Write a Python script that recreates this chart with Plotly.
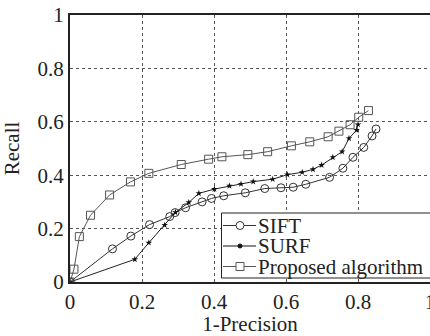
import plotly.graph_objects as go

sift_x = [0, 0.118, 0.169, 0.221, 0.277, 0.292, 0.321, 0.367, 0.393, 0.427, 0.487, 0.541, 0.586, 0.62, 0.655, 0.721, 0.758, 0.786, 0.816, 0.839, 0.85]
sift_y = [0, 0.124, 0.172, 0.215, 0.245, 0.26, 0.278, 0.3, 0.313, 0.323, 0.334, 0.35, 0.353, 0.355, 0.366, 0.392, 0.426, 0.467, 0.504, 0.547, 0.573]

surf_x = [0, 0.18, 0.219, 0.263, 0.293, 0.33, 0.358, 0.401, 0.443, 0.475, 0.509, 0.563, 0.604, 0.645, 0.675, 0.699, 0.73, 0.756, 0.775, 0.796, 0.80]
surf_y = [0, 0.085, 0.147, 0.213, 0.261, 0.298, 0.332, 0.348, 0.36, 0.367, 0.376, 0.385, 0.402, 0.411, 0.422, 0.438, 0.467, 0.488, 0.538, 0.569, 0.59]

prop_x = [0, 0.011, 0.026, 0.057, 0.11, 0.168, 0.219, 0.309, 0.385, 0.422, 0.494, 0.549, 0.615, 0.666, 0.717, 0.747, 0.778, 0.802, 0.829]
prop_y = [0, 0.048, 0.17, 0.25, 0.326, 0.375, 0.407, 0.44, 0.46, 0.469, 0.477, 0.488, 0.51, 0.525, 0.544, 0.565, 0.589, 0.617, 0.642]

series_names = ["SIFT", "SURF", "Proposed algorithm"]
tick_vals = [0, 0.2, 0.4, 0.6, 0.8, 1]
tick_text = ["0", "0.2", "0.4", "0.6", "0.8", "1"]

FONT = "Liberation Serif, Times New Roman, serif"
W, H = 430, 336
ML, MR, MT, MB = 70, 0, 15, 54
PW, PH = W - ML - MR, H - MT - MB

def px(xp):  # page x pixel -> paper
    return (xp - ML) / PW

def py(yp):  # page y pixel -> paper
    return (H - MB - yp) / PH

styles = [
    dict(line=dict(color="#333333", width=1),
         marker=dict(symbol="circle-open", size=8, color="#333333", line=dict(width=1))),
    dict(line=dict(color="#222222", width=1),
         marker=dict(symbol="star", size=5, color="#111111", line=dict(width=0))),
    dict(line=dict(color="#555555", width=1),
         marker=dict(symbol="square-open", size=8, color="#555555", line=dict(width=1))),
]

fig = go.Figure()
for name, xs, ys, st in zip(series_names, [sift_x, surf_x, prop_x], [sift_y, surf_y, prop_y], styles):
    fig.add_trace(go.Scatter(x=xs, y=ys, name=name, mode="lines+markers",
                             showlegend=False, **st))

# custom compact legend (layout decoration)
shapes = []
annotations = []
shapes.append(dict(type="rect", xref="paper", yref="paper", layer="above",
                   x0=px(221.5), x1=px(433), y0=py(278), y1=py(213),
                   line=dict(color="#222222", width=1), fillcolor="white"))
rows = [225.5, 246, 266.5]
mk_col = ["#333333", "#111111", "#555555"]
for i, (name, ry) in enumerate(zip(series_names, rows)):
    shapes.append(dict(type="line", xref="paper", yref="paper", layer="above",
                       x0=px(223), x1=px(256), y0=py(ry), y1=py(ry),
                       line=dict(color=mk_col[i], width=1)))
    cx = 240
    if i == 0:
        shapes.append(dict(type="circle", xref="paper", yref="paper", layer="above",
                           x0=px(cx - 4), x1=px(cx + 4), y0=py(ry + 4), y1=py(ry - 4),
                           line=dict(color=mk_col[i], width=1), fillcolor="white"))
    elif i == 1:
        shapes.append(dict(type="circle", xref="paper", yref="paper", layer="above",
                           x0=px(cx - 2), x1=px(cx + 2), y0=py(ry + 2), y1=py(ry - 2),
                           line=dict(color=mk_col[i], width=1), fillcolor=mk_col[i]))
    else:
        shapes.append(dict(type="rect", xref="paper", yref="paper", layer="above",
                           x0=px(cx - 4), x1=px(cx + 4), y0=py(ry + 4), y1=py(ry - 4),
                           line=dict(color=mk_col[i], width=1), fillcolor="white"))
    annotations.append(dict(text=name, xref="paper", yref="paper", x=px(256), y=py(ry),
                            xanchor="left", yanchor="middle", showarrow=False,
                            font=dict(family=FONT, size=21, color="#222222")))

axis_common = dict(
    range=[0, 1], tickvals=tick_vals, ticktext=tick_text,
    showgrid=True, gridcolor="#555555", griddash="dot", gridwidth=1,
    showline=True, linecolor="#222222", linewidth=2, mirror=True,
    ticks="", zeroline=False, automargin=False, ticklabeloverflow="allow",
    tickfont=dict(family=FONT, size=21, color="#222222"),
)

fig.update_layout(
    width=W, height=H,
    margin=dict(l=ML, r=MR, t=MT, b=MB),
    paper_bgcolor="white", plot_bgcolor="white",
    font=dict(family=FONT, color="#222222"),
    showlegend=False,
    shapes=shapes, annotations=annotations,
    xaxis=dict(**axis_common, title=dict(text="1-Precision", font=dict(family=FONT, size=21))),
    yaxis=dict(**axis_common, title=dict(text="Recall", font=dict(family=FONT, size=21))),
)

fig.write_html(
    "out.html",
    config={"displayModeBar": False},
    post_script="document.body.style.margin='0';document.body.style.overflow='hidden';",
)
